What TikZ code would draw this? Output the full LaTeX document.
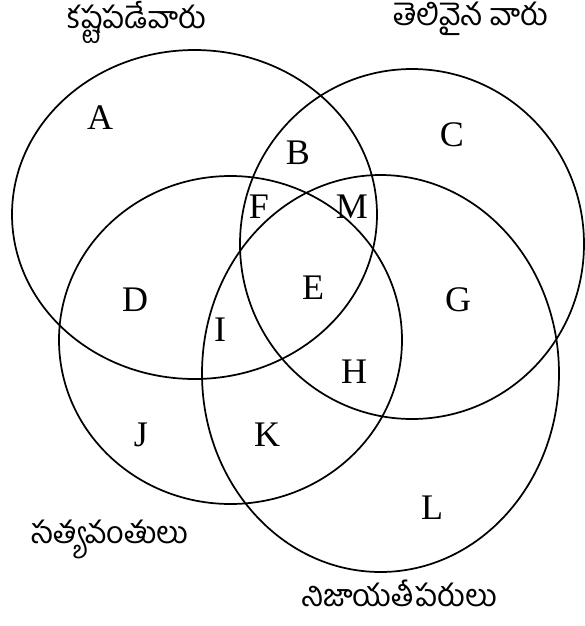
\documentclass[tikz,border=0pt]{standalone}
\usepackage{fontspec}
\setmainfont{Liberation Serif}
\newfontfamily\telugu[Script=Telugu]{Hind Guntur}
\begin{document}
\begin{tikzpicture}[x=0.75pt, y=-0.75pt,
    venn/.style ={draw, line width=1.3pt},
    zone/.style ={font=\fontsize{27}{27}\selectfont, inner sep=0pt},
    title/.style={font=\telugu\fontsize{23}{26}\selectfont, inner sep=0pt,
                  text height=14pt, text depth=2pt},
  ]
  \useasboundingbox (0,0) rectangle (585,626);
  % the four sets
  \draw[venn] (194.5,214.5) ellipse [x radius=182.5, y radius=164.5];
  \draw[venn] (412,244) ellipse [x radius=172, y radius=175];
  \draw[venn] (230.5,340) ellipse [x radius=171.5, y radius=164];
  \draw[venn] (380.5,373.5) ellipse [x radius=178.5, y radius=198.5];
  % set names
  \node[title] (hard)   at (137,20)  {కష్టపడేవారు};
  \node[title] (clever) at (471,17)  {తెలివైన వారు};
  \node[title] (true)   at (110,535) {సత్యవంతులు};
  \node[title] (honest) at (399,598) {నిజాయతీపరులు};
  % regions
  \foreach \name/\x/\y in {A/100/118, B/298/153, C/452/135, F/259/207, M/352/207,
      D/135/300, E/313/288, G/458/300, I/220/330, H/354/372, J/141/435, K/267/435, L/432/508}
    \node[zone] (\name) at (\x,\y) {\name};
\end{tikzpicture}
\end{document}
